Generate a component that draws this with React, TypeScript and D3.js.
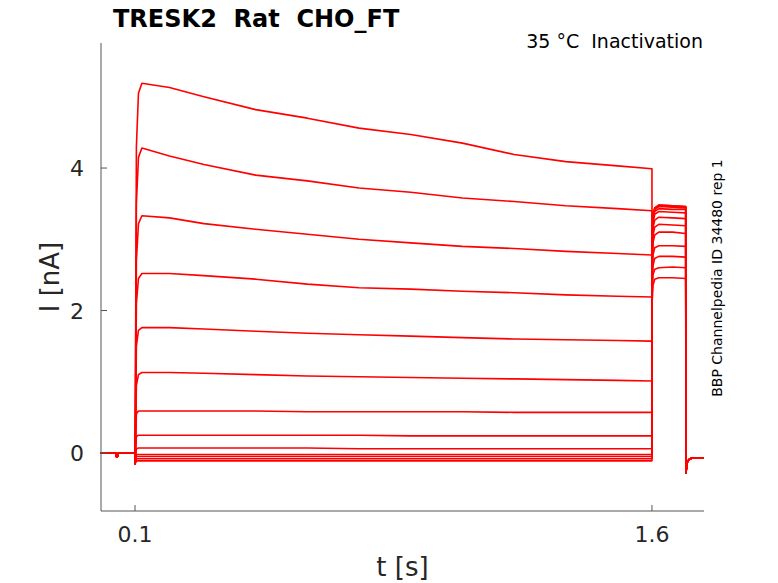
import React from 'react';
import * as d3 from 'd3';

// sweep values (nA)
const preT = [0, 0.044, 0.046, 0.049, 0.052, 0.1];
const preI = [0, 0, -0.05, -0.05, 0, 0];

const stepT = [0.1, 0.1003, 0.104, 0.11, 0.12, 0.2, 0.3, 0.45, 0.6, 0.75, 0.9, 1.05, 1.2, 1.35, 1.5, 1.6];
const stepI: number[][] = [
  [0, -0.15, 4.3, 5.05, 5.19, 5.13, 5.0, 4.82, 4.7, 4.56, 4.47, 4.35, 4.19, 4.09, 4.03, 3.99],
  [0, -0.15, 3.5, 4.15, 4.28, 4.17, 4.05, 3.9, 3.82, 3.72, 3.66, 3.58, 3.53, 3.47, 3.43, 3.4],
  [0, -0.15, 2.7, 3.22, 3.33, 3.3, 3.22, 3.14, 3.07, 3.0, 2.95, 2.9, 2.87, 2.83, 2.8, 2.78],
  [0, -0.15, 2.1, 2.45, 2.52, 2.52, 2.49, 2.44, 2.37, 2.32, 2.3, 2.27, 2.25, 2.22, 2.2, 2.19],
  [0, -0.15, 1.5, 1.72, 1.76, 1.76, 1.74, 1.71, 1.68, 1.66, 1.64, 1.62, 1.6, 1.59, 1.58, 1.57],
  [0, -0.15, 0.95, 1.1, 1.13, 1.13, 1.12, 1.1, 1.08, 1.07, 1.06, 1.05, 1.04, 1.03, 1.02, 1.01],
  [0, -0.15, 0.55, 0.59, 0.59, 0.59, 0.59, 0.59, 0.58, 0.58, 0.58, 0.58, 0.57, 0.57, 0.57, 0.57],
  [0, -0.15, 0.23, 0.25, 0.25, 0.25, 0.25, 0.25, 0.25, 0.25, 0.24, 0.24, 0.24, 0.24, 0.24, 0.24],
  [0, -0.15, 0.06, 0.07, 0.07, 0.07, 0.07, 0.07, 0.07, 0.06, 0.06, 0.06, 0.06, 0.06, 0.06, 0.06],
  [0, -0.15, -0.02, -0.02, -0.02, -0.02, -0.02, -0.02, -0.02, -0.02, -0.02, -0.02, -0.02, -0.02, -0.02, -0.02],
  [0, -0.15, -0.05, -0.05, -0.05, -0.05, -0.05, -0.05, -0.05, -0.05, -0.05, -0.05, -0.05, -0.05, -0.05, -0.05],
  [0, -0.15, -0.08, -0.08, -0.08, -0.08, -0.08, -0.08, -0.08, -0.08, -0.08, -0.08, -0.08, -0.08, -0.08, -0.08],
  [0, -0.15, -0.11, -0.11, -0.11, -0.11, -0.11, -0.11, -0.11, -0.11, -0.11, -0.11, -0.11, -0.11, -0.11, -0.11],
];

const tailT = [1.6003, 1.603, 1.608, 1.62, 1.66, 1.698];
const tailI: number[][] = [
  [2.1, 2.35, 2.44, 2.46, 2.46, 2.45],
  [2.2, 2.5, 2.58, 2.6, 2.61, 2.6],
  [2.3, 2.63, 2.73, 2.76, 2.76, 2.75],
  [2.4, 2.78, 2.88, 2.91, 2.91, 2.9],
  [2.5, 2.95, 3.06, 3.1, 3.1, 3.08],
  [2.6, 3.05, 3.17, 3.21, 3.2, 3.19],
  [2.7, 3.15, 3.27, 3.31, 3.3, 3.29],
  [2.8, 3.22, 3.35, 3.39, 3.38, 3.37],
  [2.85, 3.27, 3.39, 3.43, 3.42, 3.42],
  [2.9, 3.3, 3.42, 3.46, 3.45, 3.44],
  [2.9, 3.31, 3.43, 3.47, 3.46, 3.45],
  [2.9, 3.32, 3.44, 3.48, 3.47, 3.46],
  [2.9, 3.32, 3.44, 3.48, 3.47, 3.46],
];

const postT = [1.6985, 1.7, 1.703, 1.71, 1.72, 1.75];
const postI = [-0.28, -0.22, -0.12, -0.08, -0.07, -0.07];

const xTicks = [0.1, 1.6];
const yTicks = [0, 2, 4];

const W = 778;
const H = 583;
const left = 101;
const right = 704;
const top = 43;
const bottom = 511;

const x = d3.scaleLinear().domain([0.0013, 1.751]).range([left, right]);
const y = d3.scaleLinear().domain([-0.814, 5.755]).range([bottom, top]);

const line = d3.line<[number, number]>()
  .x(d => x(d[0]))
  .y(d => y(d[1]));

const font = '"DejaVu Sans", sans-serif';

const App: React.FC = () => {
  const sweeps = stepI.map((si, k) => {
    const pts: [number, number][] = [];
    preT.forEach((t, i) => pts.push([t, preI[i]]));
    stepT.forEach((t, i) => pts.push([t, si[i]]));
    tailT.forEach((t, i) => pts.push([t, tailI[k][i]]));
    postT.forEach((t, i) => pts.push([t, postI[i]]));
    return pts;
  });

  return (
    <svg width={W} height={H} style={{ position: 'absolute', left: 0, top: 0, background: '#fff' }}>
      <g>
        {sweeps.map((pts, k) => (
          <path key={k} d={line(pts) ?? ''} fill="none" stroke="#ff0000" strokeWidth={1.6} strokeLinejoin="round" />
        ))}
      </g>

      {/* axes */}
      <line x1={left} x2={left} y1={top} y2={bottom} stroke="#555" strokeWidth={1} />
      <line x1={left} x2={right} y1={bottom} y2={bottom} stroke="#555" strokeWidth={1} />
      {xTicks.map(t => (
        <g key={t}>
          <line x1={x(t)} x2={x(t)} y1={bottom} y2={bottom - 6} stroke="#555" />
          <text x={x(t)} y={bottom + 31} textAnchor="middle" fontFamily={font} fontSize={22} fill="#262626">{t}</text>
        </g>
      ))}
      {yTicks.map(v => (
        <g key={v}>
          <line x1={left} x2={left + 6} y1={y(v)} y2={y(v)} stroke="#555" />
          <text x={left - 17} y={y(v) + 8} textAnchor="end" fontFamily={font} fontSize={22} fill="#262626">{v}</text>
        </g>
      ))}

      <text x={(left + right) / 2} y={576} textAnchor="middle" fontFamily={font} fontSize={26} fill="#262626">t [s]</text>
      <text transform={`translate(59,${(top + bottom) / 2}) rotate(-90)`} textAnchor="middle" fontFamily={font} fontSize={26} fill="#262626">I [nA]</text>

      <text x={113} y={27} fontFamily={font} fontSize={24} fontWeight="bold" fill="#000" style={{ whiteSpace: 'pre' }}>{'TRESK2  Rat  CHO_FT'}</text>
      <text x={703} y={48} textAnchor="end" fontFamily={font} fontSize={19} fill="#000" style={{ whiteSpace: 'pre' }}>{'35 °C  Inactivation'}</text>
      <text transform={`translate(722,278) rotate(-90)`} textAnchor="middle" fontFamily={font} fontSize={14} fill="#000">BBP Channelpedia ID 34480 rep 1</text>
    </svg>
  );
};

export default App;
